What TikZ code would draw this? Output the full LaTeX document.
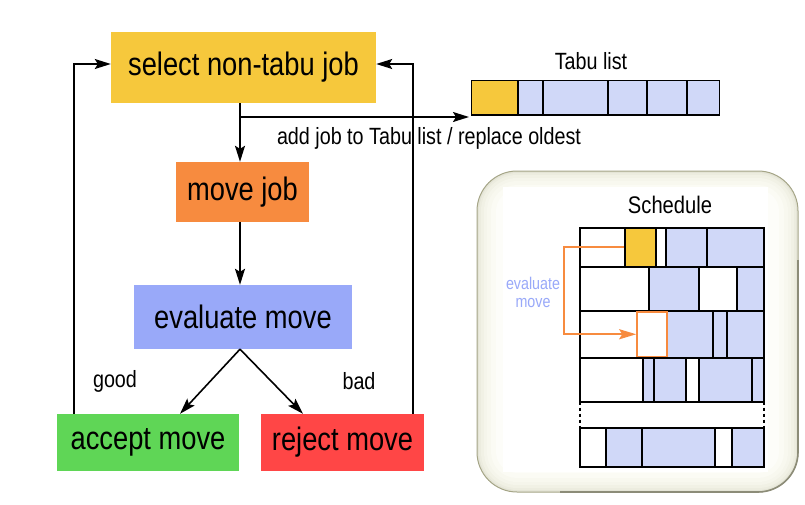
\documentclass[tikz,border=0pt]{standalone}
\usepackage{fontspec}
\setmainfont{Liberation Sans}[FakeStretch=0.84]
\usetikzlibrary{arrows.meta}
\definecolor{cyel}{RGB}{246,200,60}
\definecolor{corg}{RGB}{247,139,63}
\definecolor{cblu}{RGB}{153,169,249}
\definecolor{cgrn}{RGB}{95,214,86}
\definecolor{cred}{RGB}{255,70,70}
\definecolor{clb}{RGB}{208,216,248}
\definecolor{creamb}{RGB}{165,165,135}
\definecolor{creamd}{RGB}{140,140,120}
\tikzset{
  box/.style={inner sep=0pt, text=black, font=\fontsize{32.5}{36}\selectfont},
  lbl/.style={inner sep=0pt, font=\fontsize{23.5}{26}\selectfont},
  arr/.style={line width=1.6pt, -{Stealth[length=16pt,width=10pt,inset=3pt]}},
  oarr/.style={line width=2pt, draw=corg, -{Stealth[length=17pt,width=10pt,inset=3pt]}},
  cellw/.style={fill=white, draw=black, line width=2pt},
  cellb/.style={fill=clb, draw=black, line width=2pt},
  tcell/.style={draw=black, line width=1.5pt},
}
\begin{document}
\begin{tikzpicture}[x=1pt,y=-1pt]
\useasboundingbox (0,0) rectangle (805,504);
% schedule panel with soft gradient edge
\foreach \i/\c in {0/228, 2/236, 4/241, 7/245, 10/248, 14/251, 19/253} {
  \definecolor{tmpc}{RGB}{\c,\c,\the\numexpr\c-14+\i/2\relax}
  \fill[tmpc, rounded corners={40pt-\i pt}] (477+\i,171+\i) rectangle (798-\i,492-\i);
}
\draw[draw=creamb, line width=1pt, rounded corners=40pt] (477,171) rectangle (798,492);
\draw[draw=creamd, line width=1.6pt, rounded corners=40pt] (798,260) -- (798,492) -- (560,492);
\fill[white] (503,187) rectangle (768,472);
% flow nodes
\node[box, fill=cyel, minimum width=265pt, minimum height=71pt] (sel) at (243.5,67.5) {select non-tabu job};
\node[box, fill=corg, minimum width=133pt, minimum height=60pt] (mv) at (242.5,192) {move job};
\node[box, fill=cblu, minimum width=218pt, minimum height=64pt] (ev) at (243,317) {evaluate move};
\node[box, fill=cgrn, minimum width=182pt, minimum height=57pt] (acc) at (148,442.5) {accept move};
\node[box, fill=cred, minimum width=163pt, minimum height=57pt] (rej) at (342.5,442.5) {reject move};
\coordinate (spine) at (240,0);
\coordinate (br) at (240,117);
\coordinate (tin) at (469,117);
% connectors
\draw[arr] (sel.south -| spine) -- (mv.north -| spine);
\draw[arr] (br) -- (tin);
\draw[arr] (mv.south -| spine) -- (ev.north -| spine);
\draw[arr] (ev.south -| spine) -- ([xshift=32pt]acc.north);
\draw[arr] (ev.south -| spine) -- ([xshift=-39.5pt]rej.north);
\draw[arr] ([xshift=17pt]acc.north west) |- ([yshift=3.5pt]sel.west);
\draw[arr] ([xshift=-11pt]rej.north east) |- ([yshift=3.5pt]sel.east);
% labels
\node[lbl] (addl) at (429,138) {add job to Tabu list / replace oldest};
\node[lbl] (good) at (115,381) {good};
\node[lbl] (bad) at (359,381) {bad};
\node[lbl] (tabut) at (591,61) {Tabu list};
% tabu list
\fill[cyel] (471.5,80.7) rectangle (518,115);
\fill[clb] (518,80.7) rectangle (719.5,115);
\draw[tcell] (471.5,80.7) rectangle (719.5,115);
\foreach \x in {518,543,608,647,687} \draw[tcell] (\x,80.7) -- (\x,115);
% schedule
\node[lbl, font=\fontsize{24}{26}\selectfont] (schedt) at (670,205) {Schedule};
% row 1
\draw[cellw] (580,227.5) rectangle (625,267);
\node[draw=black, fill=cyel, line width=2pt, inner sep=0pt, minimum width=31pt, minimum height=39.5pt] (ycell) at (640.5,247.25) {};
\draw[cellw] (656,227.5) rectangle (666,267);
\draw[cellb] (666,227.5) rectangle (707,267);
\draw[cellb] (707,227.5) rectangle (764,267);
% row 2
\draw[cellw] (580,267) rectangle (649,311);
\draw[cellb] (649,267) rectangle (699,311);
\draw[cellw] (699,267) rectangle (737,311);
\draw[cellb] (737,267) rectangle (764,311);
% row 3
\draw[cellw] (580,311) rectangle (637,357.5);
\draw[cellb] (667,311) rectangle (713,357.5);
\draw[cellb] (713,311) rectangle (727,357.5);
\draw[cellb] (727,311) rectangle (764,357.5);
\draw[black, line width=2pt] (580,311) -- (764,311);
\draw[black, line width=2pt] (580,357.5) -- (764,357.5);
\node[draw=corg, fill=white, line width=1.6pt, inner sep=0pt, minimum width=30pt, minimum height=44.5pt] (obox) at (652,334.25) {};
% row 4
\draw[cellw] (580,357.5) rectangle (643,401.5);
\draw[cellb] (643,357.5) rectangle (654,401.5);
\draw[cellb] (654,357.5) rectangle (686,401.5);
\draw[cellw] (686,357.5) rectangle (699,401.5);
\draw[cellb] (699,357.5) rectangle (752,401.5);
\draw[cellb] (752,357.5) rectangle (764,401.5);
% gap
\draw[line width=2pt, dash pattern=on 3pt off 3pt] (580,401.5) -- (580,427.5);
\draw[line width=2pt, dash pattern=on 3pt off 3pt] (764,401.5) -- (764,427.5);
% row 5
\draw[cellw] (580,427.5) rectangle (606,467);
\draw[cellb] (606,427.5) rectangle (642,467);
\draw[cellb] (642,427.5) rectangle (715,467);
\draw[cellw] (715,427.5) rectangle (732,467);
\draw[cellb] (732,427.5) rectangle (764,467);
% orange evaluate arrow
\draw[oarr] (ycell.west) -- ++(-60,0) |- (obox.west);
\node[inner sep=0pt, text=cblu, align=center, font=\fontsize{17}{18}\selectfont] (evl) at (533,292) {evaluate\\move};
\end{tikzpicture}
\end{document}
